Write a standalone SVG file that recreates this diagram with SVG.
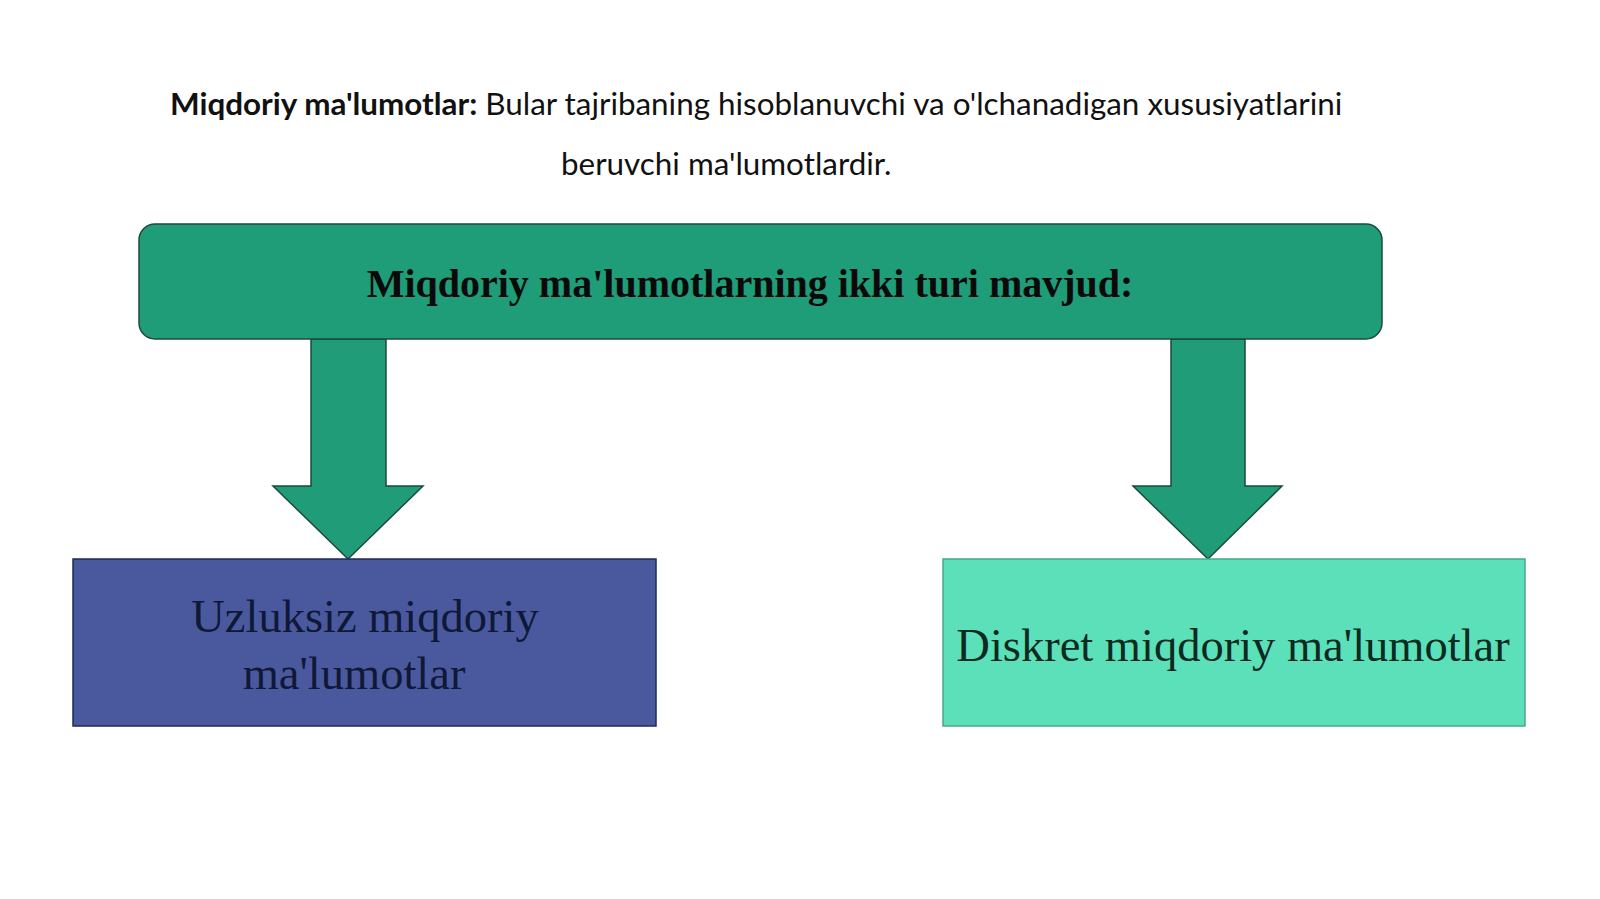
<svg xmlns="http://www.w3.org/2000/svg" width="1600" height="899" viewBox="0 0 1600 899">
<style>
.intro{font-family:Lato,"Open Sans","Liberation Sans",sans-serif;font-size:31.4px;fill:#111}
.title{font-family:"Liberation Serif","DejaVu Serif",serif;font-size:40px;font-weight:bold;fill:#0a0a0a}
.lbl{font-family:"Liberation Serif","DejaVu Serif",serif;font-size:46.5px}
.arrow{fill:#219c79;stroke:#1c4a3a;stroke-width:1.5}
</style>
<rect width="1600" height="899" fill="#ffffff"/>
<g id="intro">
<text class="intro" x="170" y="115"><tspan font-weight="bold">Miqdoriy ma'lumotlar:</tspan> Bular tajribaning hisoblanuvchi va o'lchanadigan xususiyatlarini</text>
<text class="intro" x="561" y="175">beruvchi ma'lumotlardir.</text>
</g>
<g id="connectors">
<polygon class="arrow" points="311,339 386,339 386,486 423,486 348,559 273,486 311,486"/>
<polygon class="arrow" points="1171,339 1245,339 1245,486 1282,486 1208,559 1133,486 1171,486"/>
</g>
<g id="main">
<rect x="139" y="224" width="1243" height="115" rx="16" fill="#1f9c78" stroke="#1c4a3a" stroke-width="1.5"/>
<text class="title" x="750" y="297" text-anchor="middle">Miqdoriy ma'lumotlarning ikki turi mavjud:</text>
</g>
<g id="continuous">
<rect x="73" y="559" width="583" height="167" fill="#4a599e" stroke="#1f2a55" stroke-width="1.5"/>
<text class="lbl" x="365" y="632" text-anchor="middle" fill="#101838">Uzluksiz miqdoriy</text>
<text class="lbl" x="354" y="689" text-anchor="middle" fill="#101838">ma'lumotlar</text>
</g>
<g id="discrete">
<rect x="943" y="559" width="582" height="167" fill="#5ce0b9" stroke="#4aa888" stroke-width="1.5"/>
<text class="lbl" x="1233" y="661" text-anchor="middle" fill="#0c2a20">Diskret miqdoriy ma'lumotlar</text>
</g>
</svg>
